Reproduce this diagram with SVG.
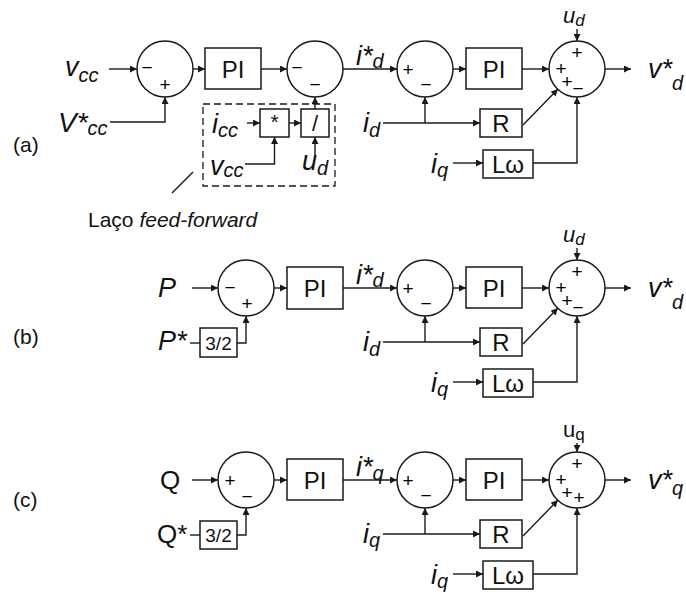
<svg xmlns="http://www.w3.org/2000/svg" width="686" height="597" viewBox="0 0 686 597">
<style>
.ln{fill:none;stroke:#1a1a1a;stroke-width:1.4}
.bx{fill:#fff;stroke:#1a1a1a;stroke-width:1.5}
.dash{fill:none;stroke:#1a1a1a;stroke-width:1.3;stroke-dasharray:7,4}
text{font-family:"Liberation Sans",Arial,sans-serif;fill:#111}
.v{font-style:italic;font-size:27px}
.up{font-size:26px}
.sb{font-size:20px}
.blk{font-size:24px;text-anchor:middle}
.sg{font-size:19px;text-anchor:middle;fill:#000}
.sm{font-size:19px;text-anchor:middle}
.lab{font-size:21px}
.ff{font-size:21px}
</style>
<defs>
<marker id="ah" viewBox="0 0 10 10" refX="10" refY="5" markerWidth="8" markerHeight="7" markerUnits="userSpaceOnUse" orient="auto"><path d="M0,0 L10,5 L0,10 z" fill="#1a1a1a"/></marker>
</defs>

<g id="connectors">
<!-- (a) -->
<path class="ln" d="M109,69 H137" marker-end="url(#ah)"/>
<path class="ln" d="M110,122 H165 V97" marker-end="url(#ah)"/>
<path class="ln" d="M193,69 H205" marker-end="url(#ah)"/>
<path class="ln" d="M261,69 H287" marker-end="url(#ah)"/>
<path class="ln" d="M315,109 V97" marker-end="url(#ah)"/>
<path class="ln" d="M315,155 V137" marker-end="url(#ah)"/>
<path class="ln" d="M247,123 H260" marker-end="url(#ah)"/>
<path class="ln" d="M289,123 H301" marker-end="url(#ah)"/>
<path class="ln" d="M245,164 H274.5 V137" marker-end="url(#ah)"/>
<path class="ln" d="M343,69 H397" marker-end="url(#ah)"/>
<path class="ln" d="M453,69 H466" marker-end="url(#ah)"/>
<path class="ln" d="M522,69 H549" marker-end="url(#ah)"/>
<path class="ln" d="M577,29 V41" marker-end="url(#ah)"/>
<path class="ln" d="M605,69 H631" marker-end="url(#ah)"/>
<path class="ln" d="M383,123 H480" marker-end="url(#ah)"/>
<path class="ln" d="M425,123 V97" marker-end="url(#ah)"/>
<path class="ln" d="M523,125 L558,89" marker-end="url(#ah)"/>
<path class="ln" d="M453,163 H483" marker-end="url(#ah)"/>
<path class="ln" d="M533,163 H577 V97" marker-end="url(#ah)"/>
<path class="ln" d="M172,193 L193,172"/>
<!-- (b) -->
<path class="ln" d="M192,288 H218" marker-end="url(#ah)"/>
<path class="ln" d="M190,343 H200"/>
<path class="ln" d="M237,343 H246 V316" marker-end="url(#ah)"/>
<path class="ln" d="M274,288 H287" marker-end="url(#ah)"/>
<path class="ln" d="M343,288 H397" marker-end="url(#ah)"/>
<path class="ln" d="M453,288 H466" marker-end="url(#ah)"/>
<path class="ln" d="M522,288 H549" marker-end="url(#ah)"/>
<path class="ln" d="M577,248 V260" marker-end="url(#ah)"/>
<path class="ln" d="M605,288 H631" marker-end="url(#ah)"/>
<path class="ln" d="M383,342 H480" marker-end="url(#ah)"/>
<path class="ln" d="M425,342 V316" marker-end="url(#ah)"/>
<path class="ln" d="M523,344 L558,308" marker-end="url(#ah)"/>
<path class="ln" d="M453,382 H483" marker-end="url(#ah)"/>
<path class="ln" d="M533,382 H577 V316" marker-end="url(#ah)"/>
<!-- (c) -->
<path class="ln" d="M192,480 H218" marker-end="url(#ah)"/>
<path class="ln" d="M190,535 H200"/>
<path class="ln" d="M237,535 H246 V508" marker-end="url(#ah)"/>
<path class="ln" d="M274,480 H287" marker-end="url(#ah)"/>
<path class="ln" d="M343,480 H397" marker-end="url(#ah)"/>
<path class="ln" d="M453,480 H466" marker-end="url(#ah)"/>
<path class="ln" d="M522,480 H549" marker-end="url(#ah)"/>
<path class="ln" d="M577,443 V452" marker-end="url(#ah)"/>
<path class="ln" d="M605,480 H631" marker-end="url(#ah)"/>
<path class="ln" d="M383,534 H480" marker-end="url(#ah)"/>
<path class="ln" d="M425,534 V508" marker-end="url(#ah)"/>
<path class="ln" d="M523,536 L558,500" marker-end="url(#ah)"/>
<path class="ln" d="M453,574 H483" marker-end="url(#ah)"/>
<path class="ln" d="M533,574 H577 V508" marker-end="url(#ah)"/>
</g>

<!-- ===== (a) ===== -->
<g id="label-a"><text class="lab" x="13" y="152">(a)</text></g>
<g id="in-vcc-a"><text class="v" x="65" y="76">v<tspan class="sb" dy="6">cc</tspan></text></g>
<g id="in-vref-a"><text class="v" x="58" y="132" style="font-size:28px">V*<tspan class="sb" dy="3">cc</tspan></text></g>
<g id="sum1-a"><circle class="bx" cx="165" cy="69" r="28"/><text class="sg" x="147" y="74">−</text><text class="sg" x="165" y="90.5">+</text></g>
<g id="pi1-a"><rect class="bx" x="205" y="48" width="56" height="41"/><text class="blk" x="233" y="77.5">PI</text></g>
<g id="sum2-a"><circle class="bx" cx="315" cy="69" r="28"/><text class="sg" x="297" y="74">−</text><text class="sg" x="315" y="91">−</text></g>
<g id="ff-a">
<rect class="dash" x="203" y="104" width="132" height="82"/>
<text class="ff" x="88" y="227">Laço <tspan font-style="italic">feed-forward</tspan></text>
</g>
<g id="in-icc-a"><text class="v" x="212" y="133">i<tspan class="sb" dy="4">cc</tspan></text></g>
<g id="in-vcc2-a"><text class="v" x="210" y="175">v<tspan class="sb" dy="2">cc</tspan></text></g>
<g id="in-ud2-a"><text class="v" x="302" y="170">u<tspan class="sb" dy="5">d</tspan></text></g>
<g id="mul-a"><rect class="bx" x="260" y="109" width="29" height="28"/><text class="sm" x="274.5" y="129" style="font-size:21px">*</text></g>
<g id="div-a"><rect class="bx" x="301" y="109" width="28" height="28"/><text class="sm" x="315" y="131" style="font-size:22px">/</text></g>
<g id="iref-a"><text class="v" x="356" y="65">i*<tspan class="sb" dy="3">d</tspan></text></g>
<g id="sum3-a"><circle class="bx" cx="425" cy="69" r="28"/><text class="sg" x="408" y="75.5">+</text><text class="sg" x="426" y="91">−</text></g>
<g id="pi2-a"><rect class="bx" x="466" y="48" width="56" height="41"/><text class="blk" x="494" y="77.5">PI</text></g>
<g id="in-ud-a"><text class="v" x="563" y="23" style="font-size:22px">u<tspan style="font-size:17px" dy="3">d</tspan></text></g>
<g id="sum4-a"><circle class="bx" cx="577" cy="69" r="28"/><text class="sg" x="577" y="58.5">+</text><text class="sg" x="561" y="75">+</text><text class="sg" x="567" y="88">+</text><text class="sg" x="578" y="95">−</text></g>
<g id="out-a"><text class="v" x="648" y="78">v*<tspan class="sb" dy="12">d</tspan></text></g>
<g id="in-id-a"><text class="v" x="363" y="132">i<tspan class="sb" dy="5">d</tspan></text></g>
<g id="r-a"><rect class="bx" x="480" y="109" width="42" height="28"/><text class="blk" x="501" y="131.5">R</text></g>
<g id="in-iq-a"><text class="v" x="431" y="173">i<tspan class="sb" dy="4">q</tspan></text></g>
<g id="lw-a"><rect class="bx" x="483" y="150" width="50" height="28"/><text class="blk" x="508" y="172.5">Lω</text></g>

<!-- ===== (b) ===== -->
<g id="label-b"><text class="lab" x="13" y="344">(b)</text></g>
<g id="in-p-b"><text class="v" x="158" y="297">P</text></g>
<g id="in-pref-b"><text class="v" x="158" y="350">P*</text></g>
<g id="k-b"><rect class="bx" x="200" y="328" width="37" height="29"/><text class="sm" x="218.5" y="349.5">3/2</text></g>
<g id="sum1-b"><circle class="bx" cx="246" cy="288" r="28"/><text class="sg" x="230" y="294">−</text><text class="sg" x="247" y="309.5">+</text></g>
<g id="pi1-b"><rect class="bx" x="287" y="267" width="56" height="42"/><text class="blk" x="315" y="297">PI</text></g>
<g id="iref-b"><text class="v" x="356" y="284">i*<tspan class="sb" dy="3">d</tspan></text></g>
<g id="sum3-b"><circle class="bx" cx="425" cy="288" r="28"/><text class="sg" x="408" y="294.5">+</text><text class="sg" x="426" y="310">−</text></g>
<g id="pi2-b"><rect class="bx" x="466" y="267" width="56" height="41"/><text class="blk" x="494" y="296.5">PI</text></g>
<g id="in-ud-b"><text class="v" x="563" y="242" style="font-size:22px">u<tspan style="font-size:17px" dy="3">d</tspan></text></g>
<g id="sum4-b"><circle class="bx" cx="577" cy="288" r="28"/><text class="sg" x="577" y="277.5">+</text><text class="sg" x="561" y="294">+</text><text class="sg" x="567" y="307">+</text><text class="sg" x="578" y="314">−</text></g>
<g id="out-b"><text class="v" x="648" y="297">v*<tspan class="sb" dy="12">d</tspan></text></g>
<g id="in-id-b"><text class="v" x="363" y="351">i<tspan class="sb" dy="5">d</tspan></text></g>
<g id="r-b"><rect class="bx" x="480" y="328" width="42" height="28"/><text class="blk" x="501" y="350.5">R</text></g>
<g id="in-iq-b"><text class="v" x="431" y="392">i<tspan class="sb" dy="4">q</tspan></text></g>
<g id="lw-b"><rect class="bx" x="483" y="369" width="50" height="28"/><text class="blk" x="508" y="391.5">Lω</text></g>

<!-- ===== (c) ===== -->
<g id="label-c"><text class="lab" x="13" y="507">(c)</text></g>
<g id="in-q-c"><text class="up" x="160" y="489">Q</text></g>
<g id="in-qref-c"><text class="up" x="157" y="543">Q*</text></g>
<g id="k-c"><rect class="bx" x="200" y="521" width="37" height="28"/><text class="sm" x="218.5" y="542">3/2</text></g>
<g id="sum1-c"><circle class="bx" cx="246" cy="480" r="28"/><text class="sg" x="230" y="487">+</text><text class="sg" x="247" y="502.5">−</text></g>
<g id="pi1-c"><rect class="bx" x="287" y="459" width="56" height="41"/><text class="blk" x="315" y="488.5">PI</text></g>
<g id="iref-c"><text class="v" x="356" y="476">i*<tspan class="sb" dy="4">q</tspan></text></g>
<g id="sum3-c"><circle class="bx" cx="425" cy="480" r="28"/><text class="sg" x="408" y="486.5">+</text><text class="sg" x="426" y="502">−</text></g>
<g id="pi2-c"><rect class="bx" x="466" y="459" width="56" height="41"/><text class="blk" x="494" y="488.5">PI</text></g>
<g id="in-uq-c"><text x="563" y="437" style="font-size:22px">u<tspan style="font-size:17px" dy="3">q</tspan></text></g>
<g id="sum4-c"><circle class="bx" cx="577" cy="480" r="28"/><text class="sg" x="577" y="469.5">+</text><text class="sg" x="561" y="486">+</text><text class="sg" x="567" y="499">+</text><text class="sg" x="579" y="504">+</text></g>
<g id="out-c"><text class="v" x="648" y="489">v*<tspan class="sb" dy="6">q</tspan></text></g>
<g id="in-iq1-c"><text class="v" x="363" y="543">i<tspan class="sb" dy="4">q</tspan></text></g>
<g id="r-c"><rect class="bx" x="480" y="520" width="42" height="28"/><text class="blk" x="501" y="542.5">R</text></g>
<g id="in-iq2-c"><text class="v" x="431" y="584">i<tspan class="sb" dy="4">q</tspan></text></g>
<g id="lw-c"><rect class="bx" x="483" y="561" width="50" height="28"/><text class="blk" x="508" y="583.5">Lω</text></g>
</svg>
